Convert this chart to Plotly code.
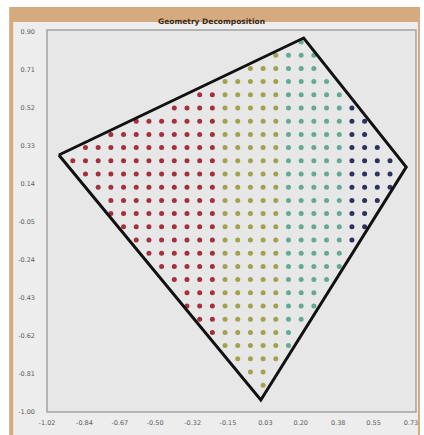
import numpy as np
import plotly.graph_objects as go

# Boundary of the domain (closed polygon, data units)
boundary_x = [-0.963, 0.214, 0.707, 0.008]
boundary_y = [0.285, 0.870, 0.225, -0.940]

# Regular node grid that fills the domain
grid_x0, grid_dx = -0.896, 0.061
grid_y0, grid_dy = 0.322, 0.066

# Sub-domain split along x and the colour of each sub-domain
part_edges = [-0.19, 0.105, 0.425]
part_colors = ["#a3303c", "#a2a24c", "#62ab92", "#2c3160"]

# Axis ticks
x_ticks = [-1.02, -0.84, -0.67, -0.50, -0.32, -0.15, 0.03, 0.20, 0.38, 0.55, 0.73]
y_ticks = [0.90, 0.71, 0.52, 0.33, 0.14, -0.05, -0.24, -0.43, -0.62, -0.81, -1.00]

X_RANGE = [-1.02, 0.754]
Y_RANGE = [-1.00, 0.91]


def inside(px, py, vx, vy):
    n = len(vx)
    res = False
    j = n - 1
    for i in range(n):
        if (vy[i] > py) != (vy[j] > py):
            xc = vx[i] + (py - vy[i]) * (vx[j] - vx[i]) / (vy[j] - vy[i])
            if px < xc:
                res = not res
        j = i
    return res


def edge_dist(px, py, vx, vy):
    d = 1e9
    n = len(vx)
    for i in range(n):
        ax, ay = vx[i], vy[i]
        bx, by = vx[(i + 1) % n], vy[(i + 1) % n]
        ex, ey = bx - ax, by - ay
        t = max(0.0, min(1.0, ((px - ax) * ex + (py - ay) * ey) / (ex * ex + ey * ey)))
        d = min(d, np.hypot(px - (ax + t * ex), py - (ay + t * ey)))
    return d


nodes_x, nodes_y = [], []
for i in range(-5, 40):
    for j in range(-25, 25):
        px = grid_x0 + i * grid_dx
        py = grid_y0 + j * grid_dy
        if inside(px, py, boundary_x, boundary_y) and edge_dist(px, py, boundary_x, boundary_y) > 0.012:
            nodes_x.append(px)
            nodes_y.append(py)
nodes_x = np.array(nodes_x)
nodes_y = np.array(nodes_y)
part = np.searchsorted(part_edges, nodes_x)

W, H = 424, 435
PL, PR, PT, PB = 47, 418, 30, 412  # plot area in pixels


def fx(px):
    return (px - PL) / (PR - PL)


def fy(py):
    return (PB - py) / (PB - PT)


fig = go.Figure()

for k, col in enumerate(part_colors):
    m = part == k
    fig.add_trace(go.Scatter(
        x=nodes_x[m], y=nodes_y[m], mode="markers",
        marker=dict(size=5, color=col, line=dict(width=0)),
        showlegend=False, hoverinfo="skip"))

fig.add_trace(go.Scatter(
    x=boundary_x + [boundary_x[0]], y=boundary_y + [boundary_y[0]],
    mode="lines", line=dict(color="#111111", width=3),
    showlegend=False, hoverinfo="skip"))

shapes = [
    # window frame and title bar
    dict(type="rect", xref="paper", yref="paper", x0=fx(9), x1=fx(422), y0=fy(436), y1=fy(7),
         fillcolor="#d4aa7e", line=dict(width=0), layer="below"),
    # panel
    dict(type="rect", xref="paper", yref="paper", x0=fx(13), x1=fx(420), y0=fy(436), y1=fy(22),
         fillcolor="#ededed", line=dict(width=0), layer="below"),
    # plot area
    dict(type="rect", xref="paper", yref="paper", x0=0, x1=1, y0=0, y1=1,
         fillcolor="#e7e7e7", line=dict(color="#a4a4a4", width=1.5), layer="below"),
]

fig.update_layout(
    width=W, height=H,
    margin=dict(l=PL, r=W - PR, t=PT, b=H - PB, pad=0),
    paper_bgcolor="#ffffff",
    plot_bgcolor="rgba(0,0,0,0)",
    shapes=shapes,
    annotations=[dict(text="<b>Geometry Decomposition</b>", xref="paper", yref="paper",
                      x=fx(212), y=fy(14.5), showarrow=False,
                      font=dict(family="DejaVu Sans", size=7.5, color="#3a2a14"))],
    xaxis=dict(range=X_RANGE, tickvals=x_ticks, ticktext=[f"{v:.2f}" for v in x_ticks],
               showgrid=False, zeroline=False, showline=False, ticks="",
               ticklabelstandoff=5,
               tickfont=dict(family="DejaVu Sans", size=6.5, color="#606060")),
    yaxis=dict(range=Y_RANGE, tickvals=y_ticks, ticktext=[f"{v:.2f}" for v in y_ticks],
               showgrid=False, zeroline=False, showline=False, ticks="",
               ticklabelstandoff=11,
               tickfont=dict(family="DejaVu Sans", size=6.5, color="#606060")),
)

fig.write_html("out.html")
